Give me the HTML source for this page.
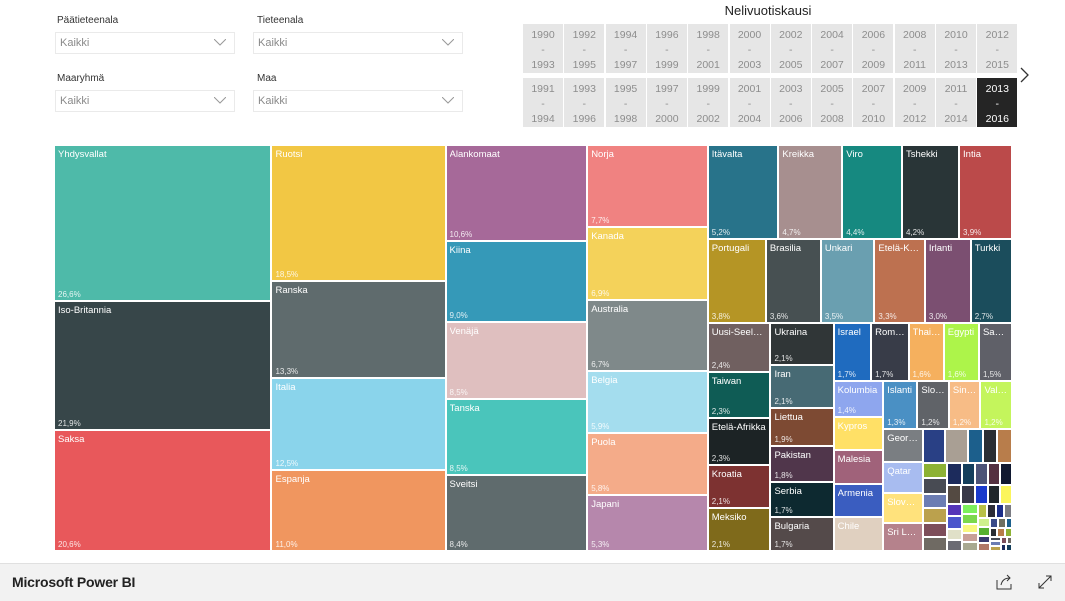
<!DOCTYPE html>
<html><head><meta charset="utf-8">
<style>
body{margin:0;width:1065px;height:600px;overflow:hidden;background:#fff;font-family:"Liberation Sans",sans-serif;position:relative}
.lbl{position:absolute;font-size:10px;color:#333}
.dd{position:absolute;width:174px;height:20px;border:1px solid #eaeaea;font-size:11px;color:#8a8a8a;line-height:20px;padding-left:4px;box-sizing:content-box}
.dd svg{position:absolute;right:8px;top:6px}
.btn{position:absolute;width:42px;height:49px;background:#e6e6e6;color:#8d8d8d;font-size:10.5px;text-align:center;line-height:15px;padding-top:4px;box-sizing:border-box}
.cell{position:absolute;box-sizing:border-box;border:1px solid #fff;overflow:hidden}
.nm{position:absolute;left:3px;top:3px;right:2px;font-size:9.5px;color:#fff;white-space:nowrap;overflow:hidden;text-overflow:ellipsis}
.pc{position:absolute;left:3px;bottom:1px;font-size:8px;color:rgba(255,255,255,.85);white-space:nowrap}
</style></head><body>
<div class="lbl" style="left:57px;top:15px">Päätieteenala</div>
<div class="dd" style="left:55px;top:32px">Kaikki<svg width="12" height="7"><path d="M0 0L6 6L12 0" stroke="#999" fill="none"/></svg></div>
<div class="lbl" style="left:257px;top:15px">Tieteenala</div>
<div class="dd" style="left:253px;top:32px;width:204px">Kaikki<svg width="12" height="7"><path d="M0 0L6 6L12 0" stroke="#999" fill="none"/></svg></div>
<div class="lbl" style="left:57px;top:73px">Maaryhmä</div>
<div class="dd" style="left:55px;top:90px">Kaikki<svg width="12" height="7"><path d="M0 0L6 6L12 0" stroke="#999" fill="none"/></svg></div>
<div class="lbl" style="left:257px;top:73px">Maa</div>
<div class="dd" style="left:253px;top:90px;width:204px">Kaikki<svg width="12" height="7"><path d="M0 0L6 6L12 0" stroke="#999" fill="none"/></svg></div>

<div style="position:absolute;left:680px;top:3px;width:176px;text-align:center;font-size:13px;color:#222">Nelivuotiskausi</div>
<div id="slicer"></div>
<div style="position:absolute;left:1018px;top:66px"><svg width="12" height="18"><path d="M3 2L10 9L3 16" stroke="#333" stroke-width="1.3" fill="none"/></svg></div>

<div id="tm" style="position:absolute;left:0;top:0"></div>

<div style="position:absolute;left:0;top:563px;width:1065px;height:37px;background:#f2f2f2;border-top:1px solid #e0e0e0">
<div style="position:absolute;left:12px;top:10px;font-size:14px;color:#222;font-weight:bold;letter-spacing:-0.2px">Microsoft Power BI</div>
<svg style="position:absolute;left:996px;top:10px" width="18" height="16"><path d="M1 6V15H15V10" stroke="#333" fill="none"/><path d="M5 11C6 6 9 4 14 4M11 1L14 4L11 7" stroke="#333" fill="none"/></svg>
<svg style="position:absolute;left:1037px;top:10px" width="16" height="16"><path d="M2 14L14 2M9 2H14V7M2 9V14H7" stroke="#333" fill="none"/></svg>
</div>

<script>
const starts=[1990,1992,1994,1996,1998,2000,2002,2004,2006,2008,2010,2012,1991,1993,1995,1997,1999,2001,2003,2005,2007,2009,2011,2013];
const sl=document.getElementById('slicer');
starts.forEach((s,i)=>{
  const r=i<12?0:1, c=i%12;
  const b=document.createElement('div');
  b.className='btn';
  
  
  b.style.left=(523+c*41.3)+'px';b.style.top=(24+r*54)+'px';b.style.width='40px';
  if(s===2013){b.style.background='#252525';b.style.color='#fff';}
  b.innerHTML=s+'<br>-<br>'+(s+3);
  sl.appendChild(b);
});

const names=["Yhdysvallat","Iso-Britannia","Saksa","Ruotsi","Ranska","Italia","Espanja","Alankomaat","Kiina","Venäjä","Tanska","Sveitsi","Norja","Kanada","Australia","Belgia","Puola","Japani","Itävalta","Kreikka","Viro","Tshekki","Intia","Portugali","Brasilia","Unkari","Etelä-Korea","Irlanti","Turkki","Uusi-Seelanti","Taiwan","Etelä-Afrikka","Kroatia","Meksiko","Ukraina","Iran","Liettua","Pakistan","Serbia","Bulgaria","Israel","Romania","Thaimaa","Egypti","Saudi-Arabia","Kolumbia","Kypros","Malesia","Armenia","Chile","Islanti","Slovakia","Singapore","Valko-Venäjä","Georgia","Qatar","Slovenia","Sri Lanka","Latvia","Argentiina"];
const values=[26.6,21.9,20.6,18.5,13.3,12.5,11.0,10.6,9.0,8.5,8.5,8.4,7.7,6.9,6.7,5.9,5.8,5.3,5.2,4.7,4.4,4.2,3.9,3.8,3.6,3.5,3.3,3.0,2.7,2.4,2.3,2.3,2.1,2.1,2.1,2.1,1.9,1.8,1.7,1.7,1.7,1.7,1.6,1.6,1.5,1.4,1.3,1.3,1.3,1.3,1.3,1.2,1.2,1.2,1.0,0.95,0.95,0.85,0.6,0.6];
const smallValues=[0.4,0.39,0.39,0.29,0.29,0.28,0.28,0.28,0.26,0.26,0.22,0.22,0.21,0.21,0.2,0.2,0.18,0.17,0.17,0.15,0.15,0.14,0.13,0.13,0.12,0.12,0.11,0.11,0.1,0.1,0.09,0.09,0.08,0.08,0.07,0.07,0.06,0.06,0.05,0.05,0.05,0.05,0.04,0.04,0.04,0.04,0.03,0.03,0.03];
const colors=["#4ebaa9","#374649","#e8585b","#f2c744","#5f6b6d","#8ad4eb","#f0965f","#a66999","#3599b8","#dfbfbf","#4ac5bb","#5f6b6d","#f08281","#f4d25a","#7f898a","#a4ddee","#f4ab89","#b687ac","#28738a","#a78f8f","#168980","#293537","#bb4a4a","#b59525","#475052","#6a9fb0","#bd7150","#7b4f71","#1b4d5c","#706060","#0f5c55","#1c2325","#7d3231","#7f6a1b","#303637","#476a74","#7d4a33","#50364b","#0d2930","#544a4a","#1f6bbf","#383c48","#f5b05e","#adf44a","#5f6068","#8ea6ee","#ffe066","#a0627a","#3a5dc0","#e0d0c0","#4a90c4","#606368","#f7bc86","#c4f55c","#7a7e82","#a8bcf0","#ffe27c","#b5828c","#294085","#a99f94"];
const smallColors=["#1c5f8c","#2b2e33","#b87d4b","#8db234","#484b53","#6c7db3","#bba14d","#7d4e5a","#6f6a63","#1c2b5c","#143e5c","#4c5377","#543040","#101830","#544a42","#383848","#1a3acc","#20252a","#fbf55c","#5535b8","#4b55cc","#e0e0c8","#6b6b73","#7df05c","#7bd84c","#f8f880","#c8a098","#a8a890","#b8c048","#2d2d38","#1c2e88","#7a7b82","#cef08c","#56b030","#383a70","#b07868","#3a4a88","#707060"];
const allValues=values.concat(smallValues);
const allNames=names.concat(smallValues.map(()=>''));
function colorOf(k){return k<colors.length?colors[k]:smallColors[(k-colors.length)%smallColors.length];}

const X0=54,Y0=145,X1=1012,Y1=551,PHI=(1+Math.sqrt(5))/2;
function layout(vals){
  const rects=[];let x0=X0,y0=Y0,x1=X1,y1=Y1;
  let value=vals.reduce((a,b)=>a+b,0);let i0=0,i1=0;const n=vals.length;
  while(i0<n){
    const dx=x1-x0,dy=y1-y0;
    let sum=vals[i1++];let mn=sum,mx=sum;
    const alpha=Math.max(dy/dx,dx/dy)/(value*PHI);
    let beta=sum*sum*alpha;let minR=Math.max(mx/beta,beta/mn);
    for(;i1<n;++i1){
      const v=vals[i1];sum+=v;if(v<mn)mn=v;if(v>mx)mx=v;
      beta=sum*sum*alpha;const nr=Math.max(mx/beta,beta/mn);
      if(nr>minR){sum-=v;break;}minR=nr;
    }
    if(dx<dy){
      const ny=y0+dy*sum/value;let cx=x0;
      for(let k=i0;k<i1;k++){const w=dx*vals[k]/sum;rects.push([k,cx,y0,w,ny-y0]);cx+=w;}
      y0=ny;
    }else{
      const nx=x0+dx*sum/value;let cy=y0;
      for(let k=i0;k<i1;k++){const h=dy*vals[k]/sum;rects.push([k,x0,cy,nx-x0,h]);cy+=h;}
      x0=nx;
    }
    value-=sum;i0=i1;
  }
  return rects;
}
const tm=document.getElementById('tm');
layout(allValues).forEach(([k,x,y,w,h])=>{
  const d=document.createElement('div');
  d.className='cell';
  
  
  d.style.left=x+'px';d.style.top=y+'px';d.style.width=w+'px';d.style.height=h+'px';
  d.style.background=colorOf(k);
  if(allNames[k]&&w>=26&&h>=17){
    const t=document.createElement('div');t.className='nm';t.textContent=allNames[k];d.appendChild(t);
    if(h>=34){const p=document.createElement('div');p.className='pc';p.textContent=allValues[k].toFixed(1).replace('.',',')+'%';d.appendChild(p);}
  }
  tm.appendChild(d);
});
</script>
</body></html>
